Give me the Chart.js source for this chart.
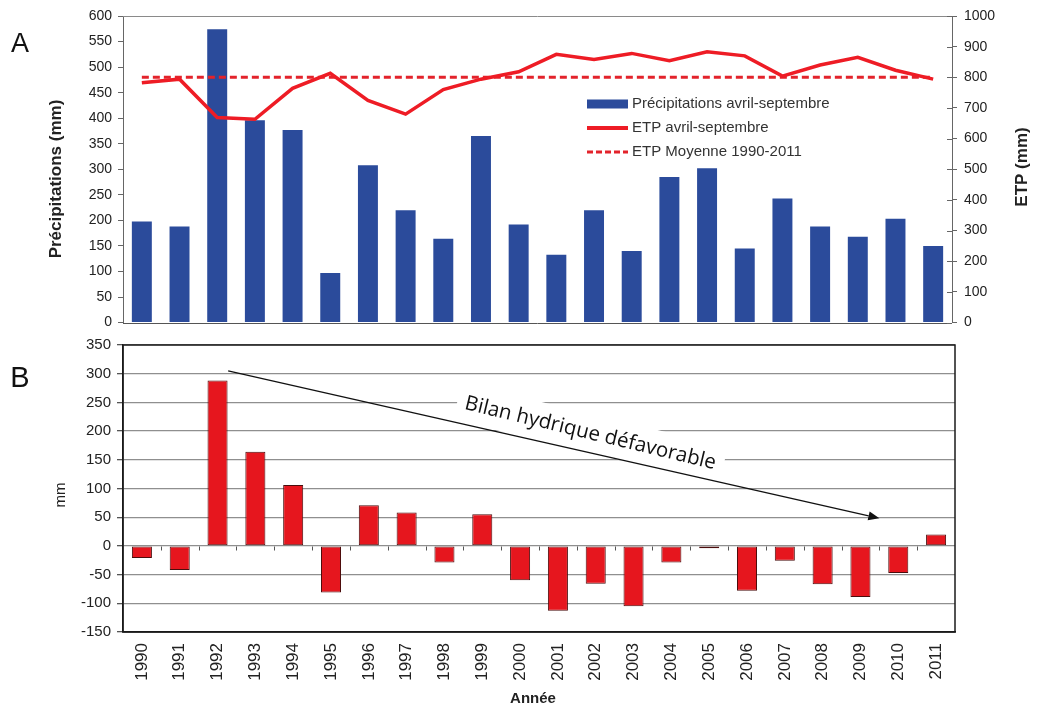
<!DOCTYPE html>
<html lang="fr">
<head>
<meta charset="utf-8">
<title>Précipitations, ETP et bilan hydrique 1990-2011</title>
<script src="https://cdn.jsdelivr.net/npm/chart.js@4.4.1/dist/chart.umd.min.js"></script>
<style>
  html, body { margin: 0; padding: 0; background: #ffffff; }
  #page { position: relative; width: 1038px; height: 707px; overflow: hidden; }
  .panel { position: absolute; left: 0; width: 1038px; }
</style>
</head>
<body>
<div id="page">
  <div class="panel" style="top:0;height:338px"><canvas id="panelA" width="1038" height="338"></canvas></div>
  <div class="panel" style="top:330px;height:377px"><canvas id="panelB" width="1038" height="377"></canvas></div>
</div>
<script>
// ---- data ----
const years = ['1990','1991','1992','1993','1994','1995','1996','1997','1998','1999','2000',
               '2001','2002','2003','2004','2005','2006','2007','2008','2009','2010','2011'];
// rainfall April-September (mm)
const precipitations = [198, 188, 574, 396, 377, 97, 308, 220, 164, 365, 192,
                        133, 220, 140, 285, 302, 145, 243, 188, 168, 203, 150];
// potential evapotranspiration April-September (mm)
const etp = [782, 794, 669, 663, 764, 813, 725, 680, 760, 794, 818,
             875, 858, 878, 854, 883, 870, 804, 840, 865, 823, 794];
// mean ETP over 1990-2011 (mm)
const etpMean = 800;
const etpMeanSeries = years.map(() => etpMean);
// water balance (mm)
const bilan = [-21, -42, 288, 164, 106, -81, 71, 58, -29, 55, -60,
               -113, -66, -105, -29, -4, -78, -26, -67, -89, -47, 20];

// trend arrow of panel B, in axis units (category index, mm)
const arrowFrom = { index: 2.28, value: 305 };
const arrowTo = { index: 19.5, value: 48 };
const noteAt = { index: 11.86, value: 196 };
const noteText = 'Bilan hydrique défavorable';

// ---- styles ----
const SANS = '"Liberation Sans", Arial, sans-serif';
const HUMANIST = '"Open Sans", "Noto Sans", sans-serif';
const BLUE = '#2b4b9b';
const RED_LINE = '#ee1c25';
const RED_DASH = '#e3232b';
const RED_BAR = '#e6161e';
const TEXT = '#222222';

function verticalText(ctx, text, x, y, font) {
  ctx.save();
  ctx.translate(x, y);
  ctx.rotate(-Math.PI / 2);
  ctx.font = font;
  ctx.fillStyle = TEXT;
  ctx.textAlign = 'center';
  ctx.textBaseline = 'middle';
  ctx.fillText(text, 0, 0);
  ctx.restore();
}

// ---- panel A decorations: frame, titles, legend ----
const panelADecor = {
  id: 'panelADecor',
  afterDraw(chart) {
    const { ctx, chartArea: a, scales } = chart;
    ctx.save();
    // top and bottom frame lines
    ctx.strokeStyle = '#8a8a8a';
    ctx.lineWidth = 1;
    ctx.beginPath();
    ctx.moveTo(a.left, a.top + 0.5);
    ctx.lineTo(a.right, a.top + 0.5);
    ctx.stroke();
    ctx.strokeStyle = '#555';
    ctx.beginPath();
    ctx.moveTo(a.left, Math.round(a.bottom) + 0.5);
    ctx.lineTo(a.right, Math.round(a.bottom) + 0.5);
    ctx.stroke();

    // inner half of the cross ticks on the ETP axis
    const y2 = scales.y2;
    ctx.strokeStyle = '#666';
    ctx.beginPath();
    y2.ticks.forEach((t) => {
      const py = Math.round(y2.getPixelForValue(t.value)) + 0.5;
      ctx.moveTo(a.right - 5, py);
      ctx.lineTo(a.right, py);
    });
    ctx.stroke();

    // panel letter
    ctx.font = '27px ' + SANS;
    ctx.fillStyle = '#111';
    ctx.textAlign = 'center';
    ctx.textBaseline = 'middle';
    ctx.fillText('A', 20, 45);

    verticalText(ctx, 'Précipitations (mm)', 56, 179, 'bold 17px ' + SANS);
    verticalText(ctx, 'ETP (mm)', 1022, 167, 'bold 17px ' + SANS);

    // legend
    const lx0 = 587, lx1 = 628, tx = 632;
    const rows = [104, 128, 152];
    ctx.fillStyle = BLUE;
    ctx.fillRect(lx0, rows[0] - 4.5, lx1 - lx0, 9);
    ctx.strokeStyle = RED_LINE;
    ctx.lineWidth = 4;
    ctx.beginPath(); ctx.moveTo(lx0, rows[1]); ctx.lineTo(lx1, rows[1]); ctx.stroke();
    ctx.strokeStyle = RED_DASH;
    ctx.lineWidth = 3;
    ctx.setLineDash([6, 3]);
    ctx.beginPath(); ctx.moveTo(lx0, rows[2]); ctx.lineTo(lx1, rows[2]); ctx.stroke();
    ctx.setLineDash([]);
    ctx.font = '15px ' + SANS;
    ctx.fillStyle = '#333';
    ctx.textAlign = 'left';
    ctx.textBaseline = 'middle';
    ctx.fillText('Précipitations avril-septembre', tx, rows[0]);
    ctx.fillText('ETP avril-septembre', tx, rows[1]);
    ctx.fillText('ETP Moyenne 1990-2011', tx, rows[2]);
    ctx.restore();
  }
};

// ---- panel B decorations: frame, zero-line ticks, titles, trend arrow ----
const panelBDecor = {
  id: 'panelBDecor',
  beforeDatasetsDraw(chart) {
    const { ctx, scales: { x, y } } = chart;
    // white box behind the annotation, then the annotation and arrow
    const x0 = x.getPixelForValue(arrowFrom.index), y0 = y.getPixelForValue(arrowFrom.value);
    const x1 = x.getPixelForValue(arrowTo.index), y1 = y.getPixelForValue(arrowTo.value);
    const ang = Math.atan2(y1 - y0, x1 - x0);
    const cx = x.getPixelForValue(noteAt.index), cy = y.getPixelForValue(noteAt.value);
    const textAng = ang + 0.8 * Math.PI / 180;
    ctx.save();
    ctx.translate(cx, cy);
    ctx.rotate(textAng);
    ctx.font = '20.5px ' + HUMANIST;
    const w = ctx.measureText(noteText).width;
    ctx.fillStyle = '#ffffff';
    ctx.fillRect(-w / 2 - 8, -19, w + 16, 38);
    ctx.fillStyle = '#111';
    ctx.textAlign = 'center';
    ctx.textBaseline = 'middle';
    ctx.fillText(noteText, 0, 0);
    ctx.restore();

    // arrow
    const head = 11, half = 4.5;
    const ex = x1 - Math.cos(ang) * head, ey = y1 - Math.sin(ang) * head;
    ctx.save();
    ctx.strokeStyle = '#111';
    ctx.lineWidth = 1.4;
    ctx.beginPath(); ctx.moveTo(x0, y0); ctx.lineTo(ex, ey); ctx.stroke();
    ctx.fillStyle = '#111';
    ctx.beginPath();
    ctx.moveTo(x1, y1);
    ctx.lineTo(ex - Math.sin(ang) * half, ey + Math.cos(ang) * half);
    ctx.lineTo(ex + Math.sin(ang) * half, ey - Math.cos(ang) * half);
    ctx.closePath();
    ctx.fill();
    ctx.restore();
  },
  afterDraw(chart) {
    const { ctx, chartArea: a, scales: { x, y } } = chart;
    ctx.save();
    // small category ticks under the zero line
    const zy = Math.round(y.getPixelForValue(0)) + 0.5;
    ctx.strokeStyle = '#555';
    ctx.lineWidth = 1;
    ctx.beginPath();
    for (let i = 1; i < years.length; i++) {
      const bx = Math.round((x.getPixelForValue(i - 1) + x.getPixelForValue(i)) / 2) + 0.5;
      ctx.moveTo(bx, zy);
      ctx.lineTo(bx, zy + 4);
    }
    ctx.stroke();

    // plot frame
    ctx.strokeStyle = '#1a1a1a';
    ctx.lineWidth = 1.5;
    ctx.strokeRect(a.left, a.top, a.right - a.left, a.bottom - a.top);

    ctx.font = '29px ' + SANS;
    ctx.fillStyle = '#111';
    ctx.textAlign = 'center';
    ctx.textBaseline = 'middle';
    ctx.fillText('B', 20, 49);

    verticalText(ctx, 'mm', 61, 165, '15px ' + SANS);

    ctx.font = 'bold 15px ' + SANS;
    ctx.fillStyle = TEXT;
    ctx.textAlign = 'center';
    ctx.textBaseline = 'middle';
    ctx.fillText('Année', 533, 369);
    ctx.restore();
  }
};

const common = {
  responsive: false,
  animation: false,
  events: [],
  plugins: { legend: { display: false }, tooltip: { enabled: false } }
};

const plainNumber = (v) => String(v);

// ---- panel A: rainfall bars and ETP lines ----
new Chart(document.getElementById('panelA'), {
  type: 'bar',
  data: {
    labels: years,
    datasets: [
      {
        type: 'line', label: 'ETP avril-septembre', data: etp, yAxisID: 'y2',
        borderColor: RED_LINE, borderWidth: 3.5, pointRadius: 0, tension: 0, order: 1
      },
      {
        type: 'line', label: 'ETP Moyenne 1990-2011', data: etpMeanSeries, yAxisID: 'y2',
        borderColor: RED_DASH, borderWidth: 3, borderDash: [7, 4], pointRadius: 0, tension: 0, order: 2
      },
      {
        type: 'bar', label: 'Précipitations avril-septembre', data: precipitations, yAxisID: 'y',
        backgroundColor: BLUE, borderWidth: 0, barPercentage: 0.53, categoryPercentage: 1.0, order: 3
      }
    ]
  },
  options: {
    ...common,
    layout: { padding: { top: 16, left: 0, right: 0, bottom: 0 } },
    scales: {
      x: {
        display: false
      },
      y: {
        position: 'left', min: 0, max: 600,
        ticks: { stepSize: 50, color: TEXT, padding: 6, font: { family: SANS, size: 14 }, callback: plainNumber },
        grid: { drawOnChartArea: false, tickLength: 5, color: '#666' },
        border: { display: true, color: '#666', width: 1 },
        afterFit(s) { s.width = 123; }
      },
      y2: {
        position: 'right', min: 0, max: 1000,
        ticks: { stepSize: 100, color: TEXT, padding: 7, font: { family: SANS, size: 14 }, callback: plainNumber },
        grid: { drawOnChartArea: false, tickLength: 5, color: '#666' },
        border: { display: true, color: '#666', width: 1 },
        afterFit(s) { s.width = 86; }
      }
    }
  },
  plugins: [panelADecor]
});

// ---- panel B: water balance ----
new Chart(document.getElementById('panelB'), {
  type: 'bar',
  data: {
    labels: years,
    datasets: [{
      label: 'Bilan hydrique', data: bilan,
      backgroundColor: RED_BAR, borderColor: '#4a0d0d', borderWidth: 1, borderSkipped: false,
      barPercentage: 0.53, categoryPercentage: 1.0
    }]
  },
  options: {
    ...common,
    layout: { padding: { top: 13, left: 0, right: 83, bottom: 0 } },
    scales: {
      x: {
        ticks: { color: TEXT, minRotation: 90, maxRotation: 90, padding: 3, font: { family: SANS, size: 17 } },
        grid: { display: false },
        border: { display: true, color: '#1a1a1a', width: 1.5 },
        afterFit(s) { s.height = 75; }
      },
      y: {
        min: -150, max: 350,
        ticks: { stepSize: 50, color: TEXT, padding: 6, font: { family: SANS, size: 15 }, callback: plainNumber },
        grid: { color: '#8f8f8f', lineWidth: 1.3, tickLength: 6, tickColor: '#555' },
        border: { display: true, color: '#1a1a1a', width: 1.5 },
        afterFit(s) { s.width = 123; }
      }
    }
  },
  plugins: [panelBDecor]
});
</script>
</body>
</html>
